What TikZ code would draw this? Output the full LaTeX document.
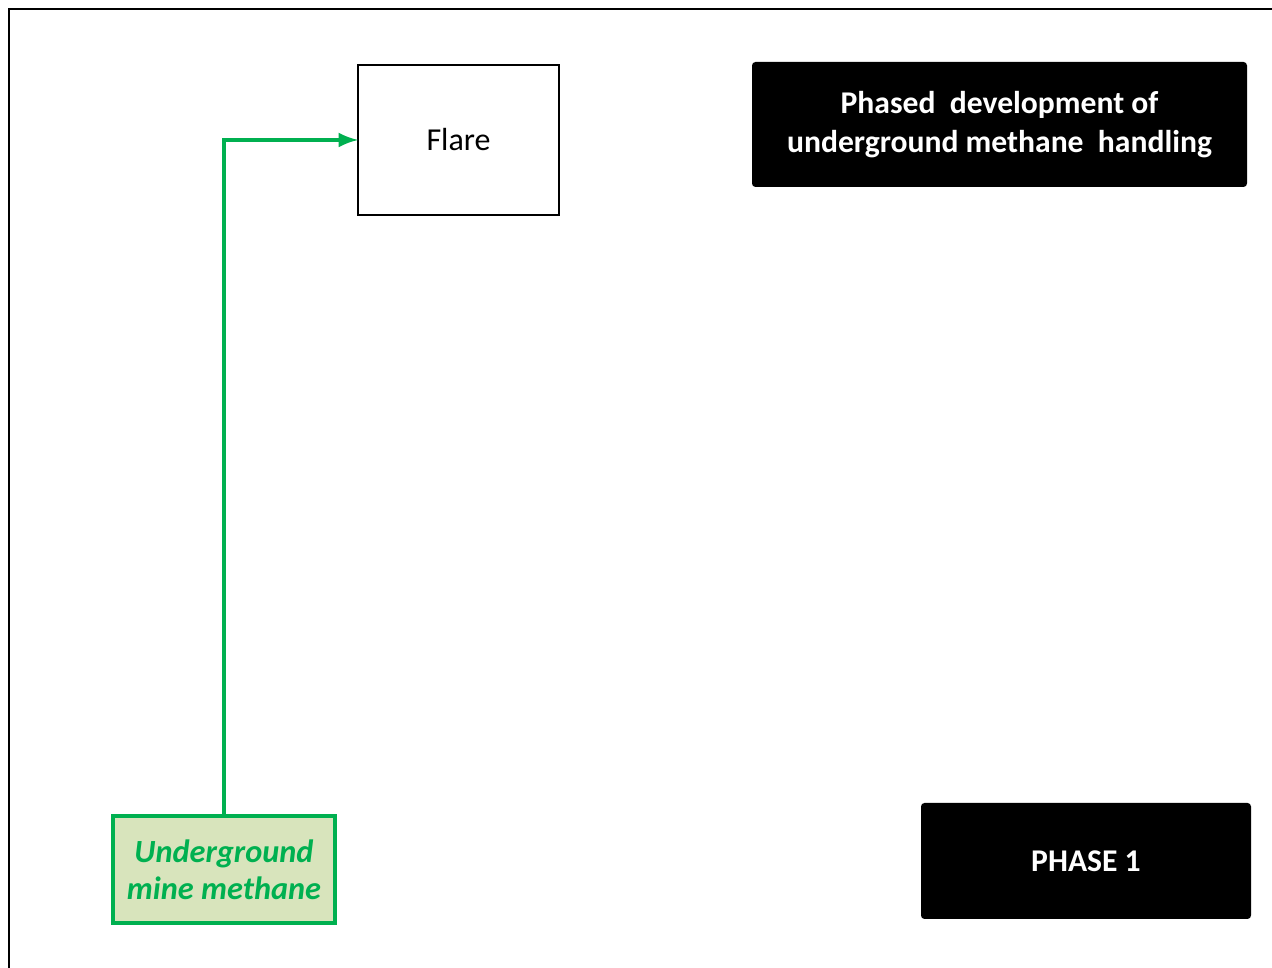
\documentclass[tikz,border=0pt]{standalone}
\usepackage{fontspec}
\setmainfont{Carlito}
\usepackage{xcolor}
\usepackage{tikz}
\definecolor{MMGreen}{HTML}{00B050}
\definecolor{MMFill}{HTML}{D8E4BC}

\begin{document}
\begin{tikzpicture}[x=1cm,y=1cm,
  plainbox/.style={draw=black,line width=0.8pt,minimum width=2.01cm,minimum height=1.50cm,inner sep=0pt,outer sep=0pt,font=\fontsize{9.1}{11}\selectfont},
  blackbox/.style={fill=black,rounded corners=1pt,text=white,align=center,inner sep=0pt,outer sep=0pt,font=\fontsize{9}{11}\selectfont\bfseries},
  sourcebox/.style={draw=MMGreen,fill=MMFill,line width=0.9pt,text=MMGreen,align=center,minimum width=2.22cm,minimum height=1.07cm,inner sep=0pt,outer sep=0pt,font=\fontsize{9.2}{10.6}\selectfont\bfseries\itshape},
  flow/.style={draw=MMGreen,line width=0.9pt,-latex}]
\path[use as bounding box] (0,0) rectangle (12.72,9.68);
\draw[line width=0.7pt] (0.09,0) -- (0.09,9.59) -- (12.72,9.59);
\node[plainbox] (flare) at (4.585,8.28) {Flare};
\node[blackbox,minimum width=4.95cm,minimum height=1.25cm] (title) at (9.995,8.435) {Phased\ \ development of\\underground methane\ \ handling};
\node[blackbox,minimum width=3.30cm,minimum height=1.16cm] (phase) at (10.86,1.07) {PHASE 1};
\node[sourcebox] (ugm) at (2.24,0.985) {Underground\\mine methane};
\draw[flow] (ugm.north) |- (flare.west);
\end{tikzpicture}
\end{document}
